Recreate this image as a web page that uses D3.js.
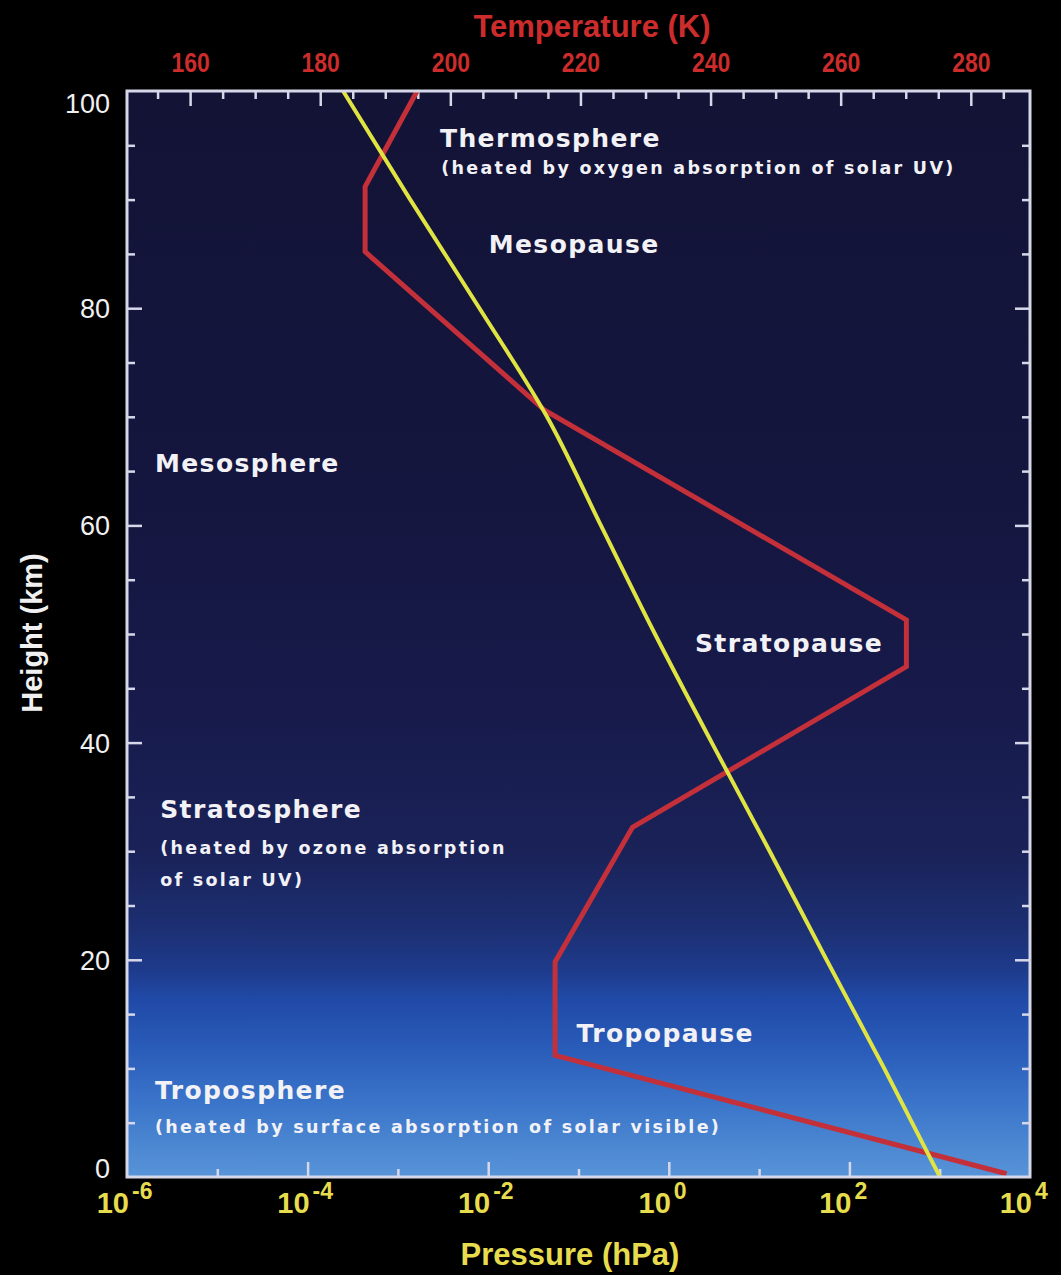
<!DOCTYPE html>
<html>
<head>
<meta charset="utf-8">
<script src="https://cdn.jsdelivr.net/npm/d3@7"></script>
<style>
  body { margin: 0; background: #000; }
  svg { display: block; font-family: "Liberation Sans", Arial, sans-serif; }
</style>
</head>
<body>
<svg id="chart" width="1061" height="1275"></svg>
<script>
// temperature profile
const tempHeight = [100, 91.2, 85.2, 70.6, 51.3, 47.0, 32.2, 19.8, 11.2, 0.3];
const tempK      = [194.9, 186.9, 186.9, 214.5, 270.1, 270.1, 228.0, 216.1, 216.1, 285.5];

// pressure profile
const presHeight = [0, 10, 20, 30, 40, 50, 60, 70, 80, 90, 100];
const presHPa    = [1007, 243, 55.8, 13.1, 2.99, 0.703, 0.177, 0.0448, 0.0080, 0.00137, 0.000247];

// axis ticks
const tempTicks   = [160, 180, 200, 220, 240, 260, 280];
const heightTicks = [0, 20, 40, 60, 80, 100];
const presExp     = [-6, -4, -2, 0, 2, 4];

// layer annotations, placed in (temperature, height) coordinates
const layerText = ["Thermosphere", "(heated by oxygen absorption of solar UV)", "Mesopause",
                   "Mesosphere", "Stratopause", "Stratosphere", "(heated by ozone absorption",
                   "of solar UV)", "Tropopause", "Troposphere",
                   "(heated by surface absorption of solar visible)"];
const layerKind = ["name", "note", "name", "name", "name", "name", "note", "note", "name", "name", "note"];
const layerT    = [198.4, 198.6, 205.9, 154.6, 237.6, 155.4, 155.4, 155.4, 219.4, 154.6, 154.6];
const layerH    = [94.8, 92.4, 85.1, 64.9, 48.3, 33.1, 29.7, 26.8, 12.4, 7.2, 4.05];

let svg = d3.select('#chart');
let pLeft = 127, pRight = 1030, pTop = 91, pBottom = 1177;

let xT = d3.scaleLinear().domain([150.3, 289.1]).range([pLeft, pRight]);
let xP = d3.scaleLog().domain([1e-6, 1e4]).range([pLeft, pRight]);
let y  = d3.scaleLinear().domain([0, 100]).range([pBottom, pTop]);

// sky gradient behind the plot
let grad = svg.append('defs').append('linearGradient')
              .attr('id', 'sky')
              .attr('x1', 0).attr('y1', 0).attr('x2', 0).attr('y2', 1);
[[0, '#131336'], [0.37, '#15163f'], [0.56, '#171a4a'], [0.70, '#1a2258'],
 [0.77, '#1c2f72'], [0.81, '#1e3b8c'], [0.835, '#2049a6'], [0.88, '#295bb8'],
 [0.93, '#3a74c9'], [1, '#5894d8']]
  .forEach(s => grad.append('stop').attr('offset', s[0]).attr('stop-color', s[1]));

svg.append('rect')
   .attr('x', pLeft).attr('y', pTop)
   .attr('width', pRight - pLeft).attr('height', pBottom - pTop)
   .attr('fill', 'url(#sky)');

// inward ticks on all four sides
const tickColor = '#d6d8ea';
function ticks(axis, tx, ty) {
  let g = svg.append('g').attr('transform', `translate(${tx},${ty})`).call(axis);
  g.select('.domain').remove();
  g.selectAll('line').attr('stroke', tickColor).attr('stroke-width', 2.5);
  g.selectAll('text').remove();
}
let hMinor = d3.range(5, 100, 5).filter(v => v % 20);
let hMajor = [20, 40, 60, 80];
ticks(d3.axisRight(y).tickValues(hMinor).tickSize(8), pLeft, 0);
ticks(d3.axisRight(y).tickValues(hMajor).tickSize(15), pLeft, 0);
ticks(d3.axisLeft(y).tickValues(hMinor).tickSize(8), pRight, 0);
ticks(d3.axisLeft(y).tickValues(hMajor).tickSize(15), pRight, 0);

let tMinor = d3.range(155, 290, 5).filter(v => v % 20);
ticks(d3.axisBottom(xT).tickValues(tMinor).tickSize(8), 0, pTop);
ticks(d3.axisBottom(xT).tickValues(tempTicks).tickSize(15), 0, pTop);

let pOdd = [-5, -3, -1, 1, 3].map(e => Math.pow(10, e));
let pEven = [-4, -2, 0, 2].map(e => Math.pow(10, e));
ticks(d3.axisTop(xP).tickValues(pOdd).tickSize(8), 0, pBottom);
ticks(d3.axisTop(xP).tickValues(pEven).tickSize(15), 0, pBottom);

// the curves
let tempData = tempHeight.map((h, i) => ({h: h, v: tempK[i]}));
let presData = presHeight.map((h, i) => ({h: h, v: presHPa[i]}));

svg.append('path')
   .datum(tempData)
   .attr('d', d3.line().x(d => xT(d.v)).y(d => y(d.h)))
   .attr('fill', 'none')
   .attr('stroke', '#c4303a')
   .attr('stroke-width', 5)
   .attr('stroke-linejoin', 'miter');

svg.append('path')
   .datum(presData)
   .attr('d', d3.line().x(d => xP(d.v)).y(d => y(d.h)).curve(d3.curveMonotoneY))
   .attr('fill', 'none')
   .attr('stroke', '#e0e442')
   .attr('stroke-width', 4);

// frame
svg.append('rect')
   .attr('x', pLeft).attr('y', pTop)
   .attr('width', pRight - pLeft).attr('height', pBottom - pTop)
   .attr('fill', 'none')
   .attr('stroke', tickColor)
   .attr('stroke-width', 3);

// layer labels
svg.append('g').selectAll('text')
   .data(layerText)
   .enter()
   .append('text')
   .attr('x', (d, i) => xT(layerT[i]))
   .attr('y', (d, i) => y(layerH[i]))
   .attr('fill', '#f2f2f6')
   .style('font-family', '"DejaVu Sans", Verdana, sans-serif')
   .attr('font-weight', 'bold')
   .attr('font-size', (d, i) => layerKind[i] === 'name' ? 25 : 17.5)
   .attr('letter-spacing', (d, i) => layerKind[i] === 'name' ? 1.4 : 2.3)
   .text(d => d);

// left labels (height)
let ly = svg.append('g').attr('transform', `translate(${pLeft},0)`)
            .call(d3.axisLeft(y).tickValues(heightTicks).tickSize(0).tickPadding(17));
ly.select('.domain').remove();
ly.selectAll('text')
  .attr('font-size', 27)
  .style('font-family', '"Liberation Sans", Arial, sans-serif')
  .attr('fill', '#f0f0f0')
  .attr('dy', d => d === 100 ? '0.78em' : d === 0 ? '0em' : '0.35em');

// top labels (temperature), narrow digits
let lt = svg.append('g').attr('transform', `translate(0,${pTop})`)
            .call(d3.axisTop(xT).tickValues(tempTicks).tickSize(0).tickPadding(19));
lt.select('.domain').remove();
lt.selectAll('text')
  .attr('font-size', 28)
  .attr('font-weight', 'bold')
  .style('font-family', '"Liberation Sans", Arial, sans-serif')
  .attr('transform', 'scale(0.82,1)')
  .attr('fill', '#cc2c2c');

// bottom labels (pressure, powers of ten)
let lb = svg.append('g').attr('transform', `translate(0,${pBottom})`)
            .selectAll('g')
            .data(presExp)
            .enter()
            .append('g')
            .attr('transform', d => `translate(${xP(Math.pow(10, d))},0)`);
lb.append('text')
  .attr('x', 2).attr('y', 36)
  .attr('text-anchor', 'end')
  .attr('font-size', 29).attr('font-weight', 'bold')
  .attr('fill', '#e6dc4e')
  .text('10');
lb.append('text')
  .attr('x', 5).attr('y', 22)
  .attr('text-anchor', 'start')
  .attr('font-size', 23).attr('font-weight', 'bold')
  .attr('fill', '#e6dc4e')
  .text(d => d < 0 ? '-' + Math.abs(d) : d);

// axis titles
svg.append('text')
   .attr('x', 592).attr('y', 37)
   .attr('text-anchor', 'middle')
   .attr('font-size', 31).attr('font-weight', 'bold')
   .attr('fill', '#cc2c2c')
   .text('Temperature (K)');

svg.append('text')
   .attr('x', 570).attr('y', 1265)
   .attr('text-anchor', 'middle')
   .attr('font-size', 31).attr('font-weight', 'bold')
   .attr('fill', '#e6dc4e')
   .text('Pressure (hPa)');

svg.append('text')
   .attr('transform', 'translate(42,633) rotate(-90)')
   .attr('text-anchor', 'middle')
   .attr('font-size', 29).attr('font-weight', 'bold')
   .attr('fill', '#f0f0f0')
   .text('Height (km)');
</script>
</body>
</html>
